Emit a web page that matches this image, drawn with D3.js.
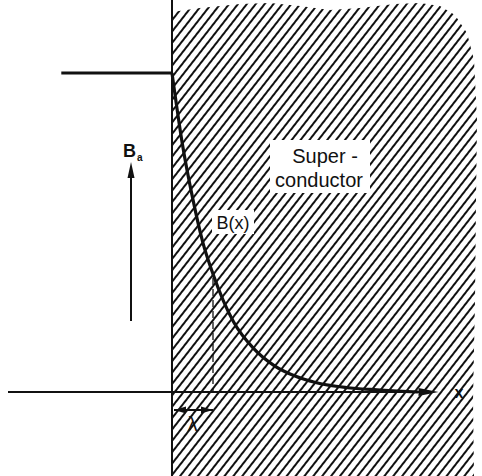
<!DOCTYPE html>
<html>
<head>
<meta charset="utf-8">
<script src="https://cdn.jsdelivr.net/npm/d3@7"></script>
<style>
  body { margin: 0; background: #fff; }
  text { font-family: "Liberation Sans", Arial, sans-serif; fill: #111; }
</style>
</head>
<body>
<div id="chart"></div>
<script>
// depth into superconductor (in units of lambda) and field B/Ba
var depth = [0, 0.25, 0.5, 0.75, 1, 1.5, 2, 2.5, 3, 3.5, 4, 4.5, 5, 5.5, 6]
var field = [1, 0.78, 0.61, 0.47, 0.37, 0.22, 0.135, 0.082, 0.05, 0.03, 0.018, 0.011, 0.007, 0.003, 0]
var outside = [-2.7, 0]       // applied field drawn outside, x range
var axisRange = [-4, 6.5]      // x axis extent
var lambdaMark = 1
var labels = {x: 'x', lambda: 'λ', bx: 'B(x)', ba: 'B', sub: 'a', sc1: 'Super -', sc2: 'conductor'}

var width = 482, height = 476

var svg = d3.select('#chart').append('svg')
  .attr('width', width).attr('height', height)

var x = d3.scaleLinear().domain([0, 1]).range([172, 213])
var y = d3.scaleLinear().domain([0, 1]).range([392, 73])

var defs = svg.append('defs')
var pat = defs.append('pattern')
  .attr('id', 'hatch')
  .attr('patternUnits', 'userSpaceOnUse')
  .attr('width', 7).attr('height', 20)
  .attr('patternTransform', 'rotate(38)')
pat.append('line')
  .attr('x1', 1).attr('x2', 1).attr('y1', 0).attr('y2', 20)
  .attr('stroke', '#111').attr('stroke-width', 2)

// ragged outline of the superconductor block
var edge = [[172, 12], [200, 8], [240, 4], [270, 3], [300, 6], [330, 10], [360, 8], [395, 4],
  [420, 3], [440, 6], [455, 15], [467, 33], [474, 60], [477, 120], [476, 200], [475, 300],
  [473, 400], [474, 476], [172, 476]]
svg.append('path')
  .attr('d', d3.line()(edge) + 'Z')
  .attr('fill', 'url(#hatch)')

// white boxes behind labels
svg.append('rect').attr('x', 270).attr('y', 140).attr('width', 100).attr('height', 53).attr('fill', '#fff')
svg.append('rect').attr('x', 212).attr('y', 210).attr('width', 42).attr('height', 24).attr('fill', '#fff')

// boundary
svg.append('line')
  .attr('x1', x(0)).attr('x2', x(0)).attr('y1', 0).attr('y2', height)
  .attr('stroke', '#111').attr('stroke-width', 2)

// applied field outside
svg.append('line')
  .attr('x1', x(outside[0])).attr('x2', x(outside[1]))
  .attr('y1', y(1)).attr('y2', y(1))
  .attr('stroke', '#111').attr('stroke-width', 3)

// x axis
var ax0 = x(axisRange[0]), ax1 = x(axisRange[1]), ay = y(0)
svg.append('line')
  .attr('x1', ax0).attr('x2', ax1 - 10).attr('y1', ay).attr('y2', ay)
  .attr('stroke', '#111').attr('stroke-width', 2)
svg.append('path')
  .attr('d', d3.line()([[ax1, ay], [ax1 - 20, ay - 4], [ax1 - 20, ay + 4]]) + 'Z')
  .attr('fill', '#111')
svg.append('text').attr('x', ax1 + 16).attr('y', ay + 6)
  .attr('font-size', 16).attr('font-weight', 'bold').text(labels.x)

// B(x) curve
var pts = depth.map(function(d, i) { return [x(d), y(field[i])] })
svg.append('path')
  .attr('d', d3.line().curve(d3.curveMonotoneX)(pts))
  .attr('fill', 'none').attr('stroke', '#111').attr('stroke-width', 3.2)

// dashed lambda marker
var lamIdx = depth.indexOf(lambdaMark)
svg.append('line')
  .attr('x1', x(lambdaMark)).attr('x2', x(lambdaMark))
  .attr('y1', y(field[lamIdx]) + 4).attr('y2', ay)
  .attr('stroke', '#111').attr('stroke-width', 1.3).attr('stroke-dasharray', '7,4')

// lambda double arrow
var ly = 410
svg.append('line')
  .attr('x1', x(0) + 2).attr('x2', x(lambdaMark)).attr('y1', ly).attr('y2', ly)
  .attr('stroke', '#111').attr('stroke-width', 2)
svg.append('path')
  .attr('d', d3.line()([[x(0) + 2, ly], [x(0) + 14, ly - 3.5], [x(0) + 14, ly + 3.5]]) + 'Z')
  .attr('fill', '#111')
svg.append('path')
  .attr('d', d3.line()([[x(lambdaMark), ly], [x(lambdaMark) - 12, ly - 3.5], [x(lambdaMark) - 12, ly + 3.5]]) + 'Z')
  .attr('fill', '#111')
svg.append('text').attr('x', (x(0) + x(lambdaMark)) / 2).attr('y', 431)
  .attr('text-anchor', 'middle').attr('font-size', 20).text(labels.lambda)

// Ba arrow
svg.append('line')
  .attr('x1', 131).attr('x2', 131).attr('y1', 321).attr('y2', 172)
  .attr('stroke', '#111').attr('stroke-width', 2)
svg.append('path')
  .attr('d', d3.line()([[131, 162], [127.5, 178], [134.5, 178]]) + 'Z')
  .attr('fill', '#111')
svg.append('text').attr('x', 123).attr('y', 157).attr('font-size', 18).attr('font-weight', 'bold').text(labels.ba)
svg.append('text').attr('x', 137).attr('y', 161).attr('font-size', 10).attr('font-weight', 'bold').text(labels.sub)

// labels
svg.append('text').attr('x', 325).attr('y', 163).attr('text-anchor', 'middle')
  .attr('font-size', 20).text(labels.sc1)
svg.append('text').attr('x', 319).attr('y', 187).attr('text-anchor', 'middle')
  .attr('font-size', 20).text(labels.sc2)
svg.append('text').attr('x', 233).attr('y', 229).attr('text-anchor', 'middle')
  .attr('font-size', 18).text(labels.bx)
</script>
</body>
</html>
